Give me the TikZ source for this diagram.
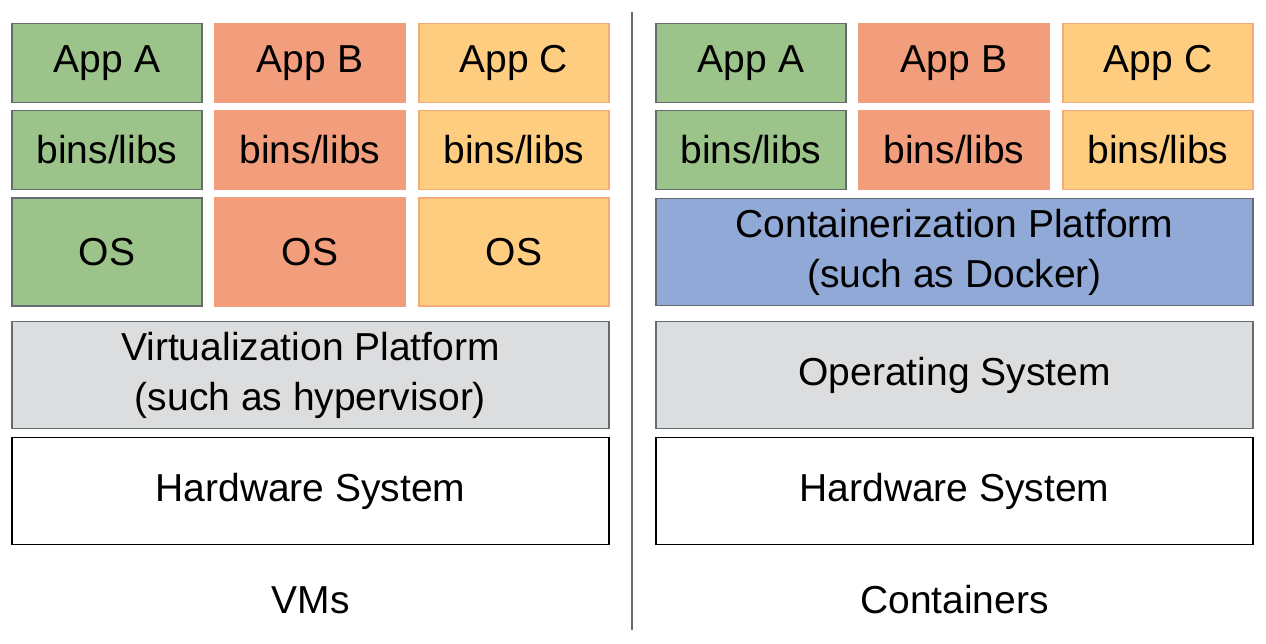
\documentclass[tikz,border=0pt]{standalone}
\usepackage{fontspec}
\setmainfont{Liberation Sans}
\usepackage{tikz}
\usetikzlibrary{positioning}

\definecolor{appgreen}{RGB}{155,195,138}
\definecolor{appred}{RGB}{242,158,124}
\definecolor{appyellow}{RGB}{255,205,128}
\definecolor{edgeyellow}{RGB}{246,170,120}
\definecolor{dockblue}{RGB}{145,169,214}
\definecolor{platgray}{RGB}{220,221,223}
\definecolor{edgegray}{RGB}{100,108,112}

\tikzset{
    layer/.style={draw, line width=1.5pt, inner sep=0pt, align=center,
        font=\fontsize{39}{50}\selectfont},
    small/.style={layer, minimum width=190pt, minimum height=79pt},
    wide/.style={layer, minimum width=597pt, minimum height=107pt},
}

\begin{document}
\begin{tikzpicture}[x=1pt, y=-1pt]

        \useasboundingbox (0, 0) rectangle (1266, 643);

        % app stacks on both sides
        \foreach \side/\off in {vm/0, ct/644}
            \foreach \app/\col/\edge/\x in {A/appgreen/edgegray/107, B/appred/appred/310, C/appyellow/edgeyellow/514}
            {
                \node[small, fill=\col, draw=\edge] (\side app\app) at (\x+\off, 63) {App \app};
                \node[small, fill=\col, draw=\edge] (\side bins\app) at (\x+\off, 150) {bins/libs};
            };

        % guest OS for each VM
        \node[small, minimum height=108pt, fill=appgreen, draw=edgegray] (vmosA) at (107, 252) {OS};
        \node[small, minimum height=108pt, fill=appred, draw=appred] (vmosB) at (310, 252) {OS};
        \node[small, minimum height=108pt, fill=appyellow, draw=edgeyellow] (vmosC) at (514, 252) {OS};

        \node[wide, fill=platgray, draw=edgegray] (virt) at (310.5, 375) {Virtualization Platform\\(such as hypervisor)};
        \node[wide, fill=white, draw=black] (vmhw) at (310.5, 491) {Hardware System};

        \node[wide, fill=dockblue, draw=edgegray] (docker) at (954.5, 252) {Containerization Platform\\(such as Docker)};
        \node[wide, fill=platgray, draw=edgegray] (hostos) at (954.5, 375) {Operating System};
        \node[wide, fill=white, draw=black] (cthw) at (954.5, 491) {Hardware System};

        \node[font=\fontsize{39}{50}\selectfont] (vmlabel) at (310.5, 600) {VMs};
        \node[font=\fontsize{39}{50}\selectfont] (ctlabel) at (954.5, 600) {Containers};

        \draw[edgegray, line width=1.5pt] (632, 12) -- (632, 630);

    \end{tikzpicture}
\end{document}
